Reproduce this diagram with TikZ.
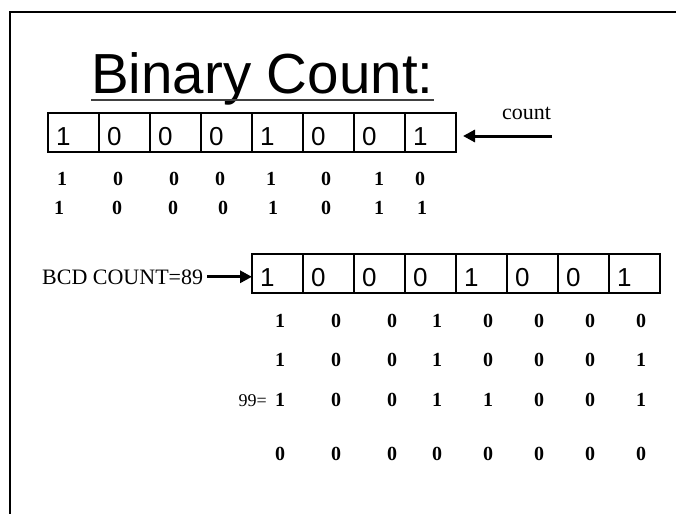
\documentclass[tikz,border=0pt]{standalone}
\usepackage{fontspec}
\setmainfont{Liberation Serif}
\newfontfamily\arialf{Liberation Sans}
\usetikzlibrary{arrows.meta,calc}
\begin{document}
\begin{tikzpicture}[x=1pt,y=-1pt,
  cell/.style={draw, line width=1.6pt, minimum width=51pt, minimum height=39pt, inner sep=0pt, outer sep=0pt},
  boxdigit/.style={anchor=base west, inner sep=0pt, font=\arialf\fontsize{26}{28}\selectfont},
  bit/.style={anchor=base, inner sep=0pt, font=\bfseries\fontsize{20}{22}\selectfont},
  lbl/.style={inner sep=0pt, font=\fontsize{22}{24}\selectfont},
  bigarrow/.style={line width=3pt, -{Triangle[length=12pt,width=12pt]}},
  frameline/.style={line width=2.5pt}]
\useasboundingbox (0,0) rectangle (676,514);
% frame
\coordinate (fTR) at (676,12);
\coordinate (fTL) at (10,12);
\coordinate (fBL) at (10,514);
\draw[frameline] (fTR) -- (fTL) -- (fBL);
% title
\node[anchor=base west, inner sep=0pt, font=\arialf\fontsize{56.5}{60}\selectfont] (title) at (91,93) {Binary Count:};
\draw[line width=2pt, black!75] ([yshift=-6.5pt]title.base west) -- ([yshift=-6.5pt]title.base east);
% top register
\foreach \d [count=\i] in {1,0,0,0,1,0,0,1} {
  \node[cell] (t\i) at ({73.5+51*(\i-1)},132.5) {};
  \node[boxdigit] (td\i) at ($(t\i.south west)+(8,-7)$) {\d};
}
\node[lbl, anchor=base west] (count) at (502,119) {count};
\coordinate (ctail) at (552,136);
\draw[bigarrow] (ctail) -- (ctail -| {$(t8.east)+(7,0)$});
% top rows
\foreach \x/\d [count=\i] in {62/1,118/0,174/0,220/0,271/1,326/0,379/1,420/0} {
  \node[bit] (ra\i) at (\x,185) {\d};
}
\foreach \x/\d [count=\i] in {59/1,117/0,173/0,223/0,273/1,326/0,379/1,422/1} {
  \node[bit] (rb\i) at (\x,214) {\d};
}
% BCD register
\node[lbl, anchor=base west] (bcd) at (42,284) {BCD COUNT=89};
\foreach \d [count=\i] in {1,0,0,0,1,0,0,1} {
  \node[cell] (b\i) at ({277.5+51*(\i-1)},273.5) {};
  \node[boxdigit] (bd\i) at ($(b\i.south west)+(8,-7)$) {\d};
}
\draw[bigarrow] ([xshift=4pt]bcd.east) -- (bcd.east -| b1.west);
% lower rows
\foreach \x/\d [count=\i] in {280/1,336/0,392/0,437/1,488/0,539/0,590/0,641/0} {
  \node[bit] (rc\i) at (\x,327) {\d};
}
\foreach \x/\d [count=\i] in {280/1,336/0,392/0,437/1,488/0,539/0,590/0,641/1} {
  \node[bit] (rd\i) at (\x,366) {\d};
}
\foreach \x/\d [count=\i] in {280/1,336/0,392/0,437/1,488/1,539/0,590/0,641/1} {
  \node[bit] (re\i) at (\x,406) {\d};
}
\node[inner sep=0pt, anchor=base east, font=\fontsize{18}{20}\selectfont] (nn) at (267,406) {99=};
\foreach \x/\d [count=\i] in {280/0,336/0,392/0,437/0,488/0,539/0,590/0,641/0} {
  \node[bit] (rf\i) at (\x,460) {\d};
}
\end{tikzpicture}
\end{document}
